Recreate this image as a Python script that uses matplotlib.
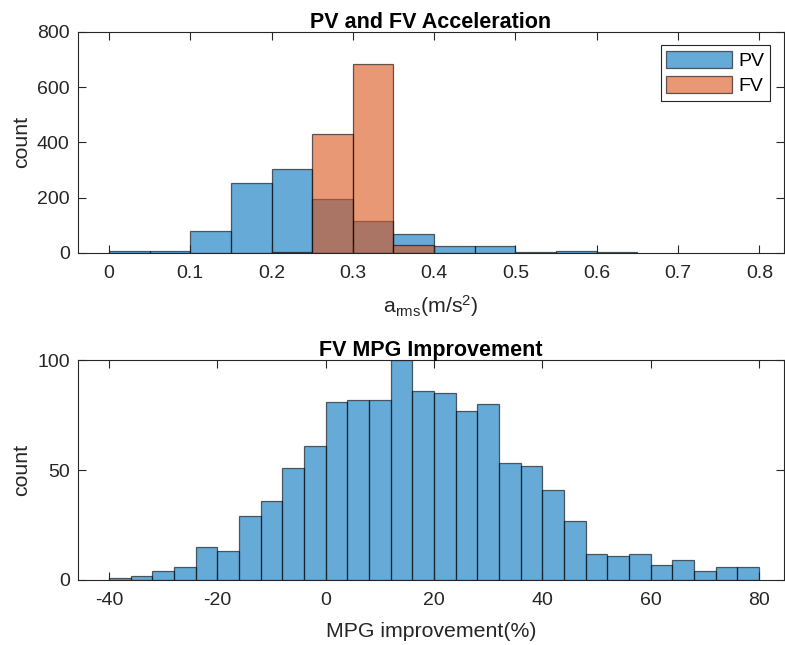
import numpy as np
import matplotlib.pyplot as plt

plt.rcParams['font.family'] = ['Liberation Sans', 'DejaVu Sans']
plt.rcParams['axes.unicode_minus'] = False

# acceleration histograms (bin width 0.05 m/s^2)
acc_edges_pv = np.round(np.arange(0, 0.651, 0.05), 2)
acc_pv = [8, 8, 80, 252, 303, 194, 115, 68, 25, 25, 5, 8, 2]
acc_edges_fv = np.round(np.arange(0.2, 0.401, 0.05), 2)
acc_fv = [3, 432, 683, 30]

# MPG improvement histogram (bin width 4 %)
mpg_edges = np.arange(-40, 81, 4)
mpg_counts = [1, 2, 4, 6, 15, 13, 29, 36, 51, 61, 81, 82, 82, 100, 86,
              85, 77, 80, 53, 52, 41, 27, 12, 11, 12, 7, 9, 4, 6, 6]

blue = (0, 0.447, 0.741)
orange = (0.85, 0.325, 0.098)
txt = (0.15, 0.15, 0.15)

fig = plt.figure(figsize=(7.85, 6.45), dpi=100)
ax1 = fig.add_axes([0.0994, 0.6078, 0.899, 0.343])
ax2 = fig.add_axes([0.0994, 0.1008, 0.899, 0.341])


def hist(ax, edges, counts, color, label=None):
    ax.hist(edges[:-1], bins=edges, weights=counts, color=color, alpha=0.6,
            edgecolor='black', linewidth=0.9, label=label)


hist(ax1, acc_edges_pv, acc_pv, blue, 'PV')
hist(ax1, acc_edges_fv, acc_fv, orange, 'FV')
hist(ax2, mpg_edges, mpg_counts, blue)

for ax in (ax1, ax2):
    ax.tick_params(direction='in', top=True, right=True, length=6,
                   width=0.8, labelsize=14, colors=txt)
    ax.tick_params(axis='x', pad=9)
    ax.tick_params(axis='y', pad=6)
    for s in ax.spines.values():
        s.set_color(txt)
        s.set_linewidth(0.8)

ax1.set_xlim(-0.038, 0.83)
ax1.set_ylim(0, 800)
ax1.set_xticks(np.round(np.arange(0, 0.81, 0.1), 1))
ax1.set_xticklabels(['0', '0.1', '0.2', '0.3', '0.4', '0.5', '0.6', '0.7', '0.8'])
ax1.set_yticks([0, 200, 400, 600, 800])
ax1.set_title('PV and FV Acceleration', fontsize=15.5, fontweight='bold', pad=3)
ax1.set_ylabel('count', fontsize=15.3, color=txt, labelpad=4)
ax1.set_xlabel(r'$\mathregular{a_{rms}(m/s^2)}$', fontsize=15.3, color=txt, labelpad=8)
leg = ax1.legend(loc='upper right', fontsize=14, handlelength=3.4,
                 handleheight=0.95, fancybox=False, framealpha=1,
                 borderaxespad=0.7, handletextpad=0.3, labelspacing=0.3,
                 borderpad=0.3)
leg.get_frame().set_edgecolor(txt)
leg.get_frame().set_linewidth(0.8)

ax2.set_xlim(-45.7, 84.6)
ax2.set_ylim(0, 100)
ax2.set_xticks([-40, -20, 0, 20, 40, 60, 80])
ax2.set_yticks([0, 50, 100])
ax2.set_title('FV MPG Improvement', fontsize=15.5, fontweight='bold', pad=3)
ax2.set_ylabel('count', fontsize=15.3, color=txt, labelpad=4)
ax2.set_xlabel('MPG improvement(%)', fontsize=15.3, color=txt, labelpad=9)

fig.savefig('out.png', dpi=100)
